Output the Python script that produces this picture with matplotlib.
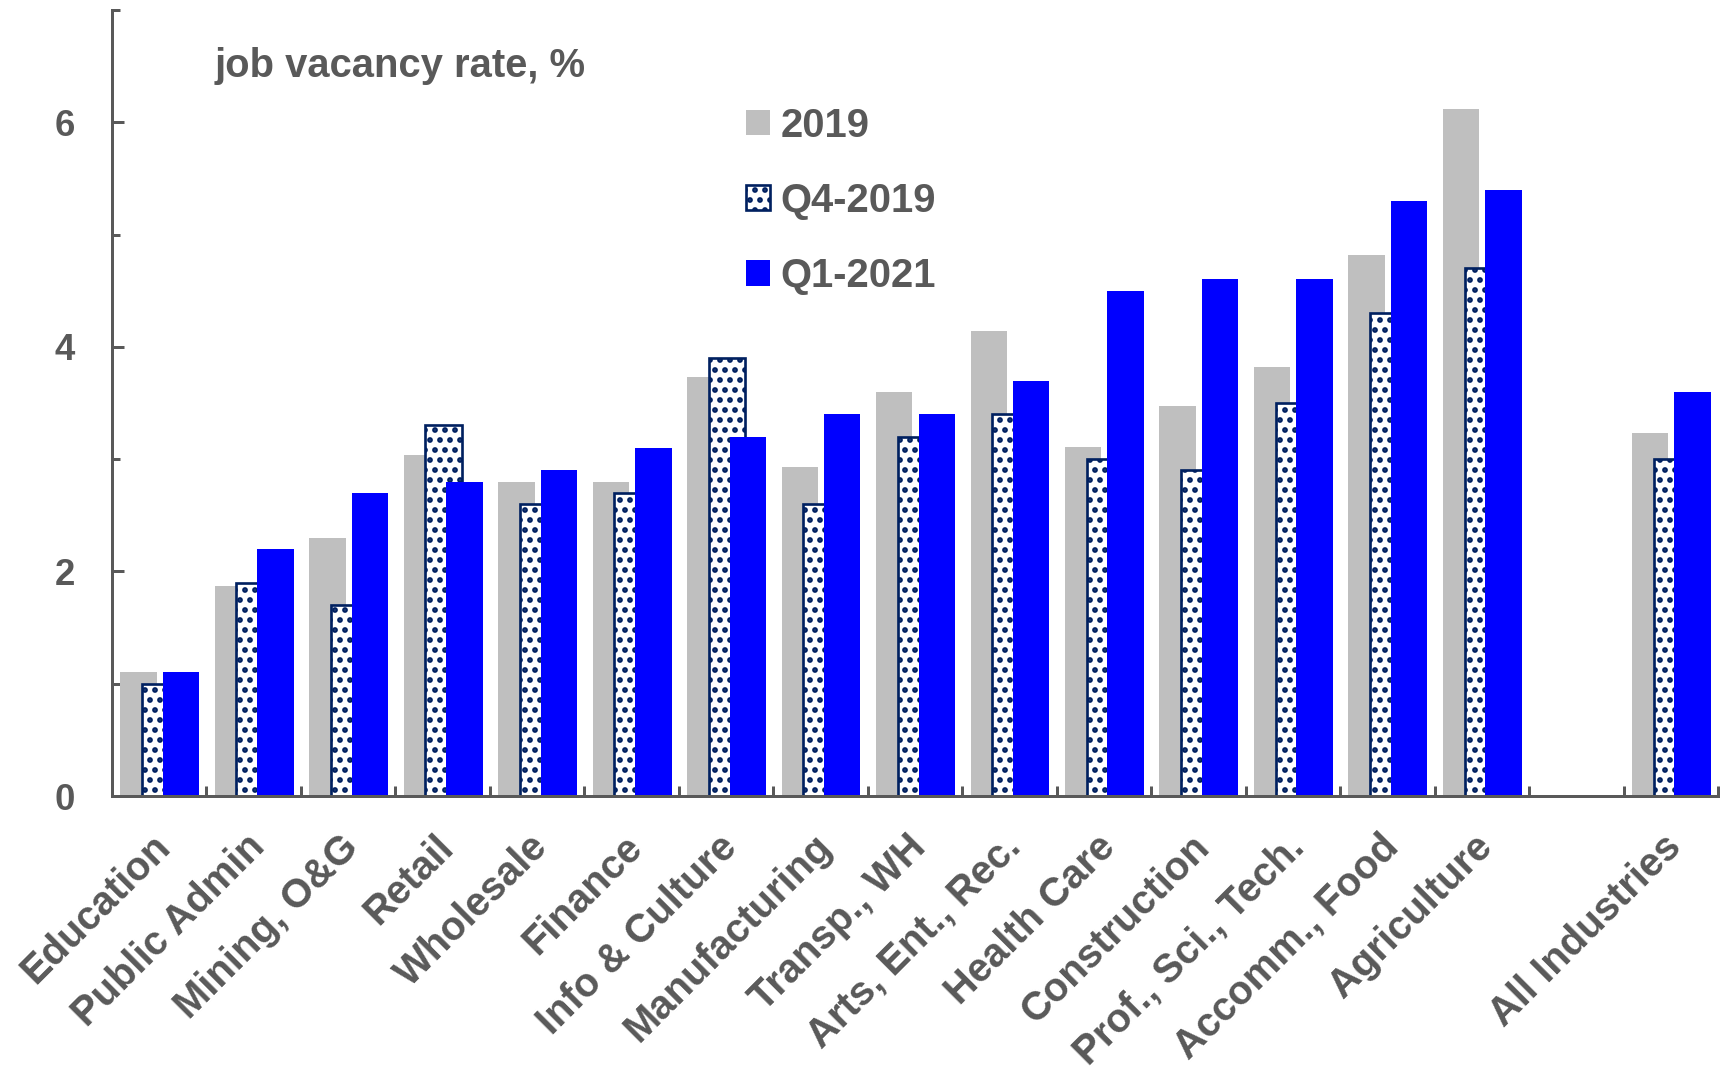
import matplotlib.pyplot as plt
import matplotlib.transforms as mtransforms
import numpy as np

plt.rcParams['font.family'] = ['Liberation Sans', 'DejaVu Sans']
plt.rcParams['font.weight'] = 'bold'
plt.rcParams['hatch.linewidth'] = 2.2

txt = '#595959'
navy = '#002060'

industries = ['Education', 'Public Admin', 'Mining, O&G', 'Retail', 'Wholesale',
              'Finance', 'Info & Culture', 'Manufacturing', 'Transp., WH',
              'Arts, Ent., Rec.', 'Health Care', 'Construction', 'Prof., Sci., Tech.',
              'Accomm., Food', 'Agriculture', '', 'All Industries']

# job vacancy rate, % (empty slot before "All Industries")
y2019 = [1.1, 1.87, 2.3, 3.04, 2.8, 2.8, 3.73, 2.93, 3.6, 4.14, 3.11, 3.47, 3.82, 4.82, 6.12, np.nan, 3.23]
q4_2019 = [1.0, 1.9, 1.7, 3.3, 2.6, 2.7, 3.9, 2.6, 3.2, 3.4, 3.0, 2.9, 3.5, 4.3, 4.7, np.nan, 3.0]
q1_2021 = [1.1, 2.2, 2.7, 2.8, 2.9, 3.1, 3.2, 3.4, 3.4, 3.7, 4.5, 4.6, 4.6, 5.3, 5.4, np.nan, 3.6]

x = np.arange(len(industries))
w = 0.385

fig = plt.figure(figsize=(1727/120, 1071/120), dpi=120)
ax = fig.add_axes([112/1727, 1 - 796/1071, (1718-112)/1727, (796-10)/1071])

ax.bar(x - 0.22, y2019, w, color='#BFBFBF', label='2019', zorder=2)
ax.bar(x + 0.01, q4_2019, w, facecolor='white', edgecolor=navy, linewidth=1.6,
       hatch='..', label='Q4-2019', zorder=3)
ax.bar(x + 0.23, q1_2021, w, color='#0000FF', label='Q1-2021', zorder=4)

ax.set_xlim(-0.5, len(industries) - 0.5)
ax.set_ylim(0, 7)

for s in ['top', 'right']:
    ax.spines[s].set_visible(False)
for s in ['left', 'bottom']:
    ax.spines[s].set_color(txt)
    ax.spines[s].set_linewidth(1.8)
    ax.spines[s].set_zorder(5)

ax.set_yticks([0, 2, 4, 6])
ax.set_yticks([1, 3, 5, 7], minor=True)
ax.tick_params(axis='y', which='major', direction='in', length=7, width=1.8,
               color=txt, labelcolor=txt, labelsize=22, pad=22)
ax.tick_params(axis='y', which='minor', direction='in', length=5, width=1.8, color=txt)

ax.set_xticks(x)
ax.set_xticklabels(industries, rotation=45, ha='right', rotation_mode='anchor', va='center')
ax.set_xticks(np.arange(len(industries) + 1) - 0.5, minor=True)
ax.tick_params(axis='x', which='major', length=0, labelcolor=txt, labelsize=24, pad=27)
ax.tick_params(axis='x', which='minor', direction='in', length=6, width=1.8, color=txt)
shift = mtransforms.ScaledTranslation(5/120, 0, fig.dpi_scale_trans)
for lbl in ax.get_xticklabels():
    lbl.set_transform(lbl.get_transform() + shift)

ax.text(0.064, 0.929, 'job vacancy rate, %', transform=ax.transAxes, fontsize=24,
        color=txt, va='center', ha='left')

leg = ax.legend(loc='upper left', bbox_to_anchor=(0.395, 0.877), frameon=False,
                fontsize=24, handlelength=0.6, handleheight=0.6, handletextpad=0.25,
                labelspacing=0.93, borderpad=0, borderaxespad=0)
for t in leg.get_texts():
    t.set_color(txt)

fig.savefig('out.png', dpi=120)
